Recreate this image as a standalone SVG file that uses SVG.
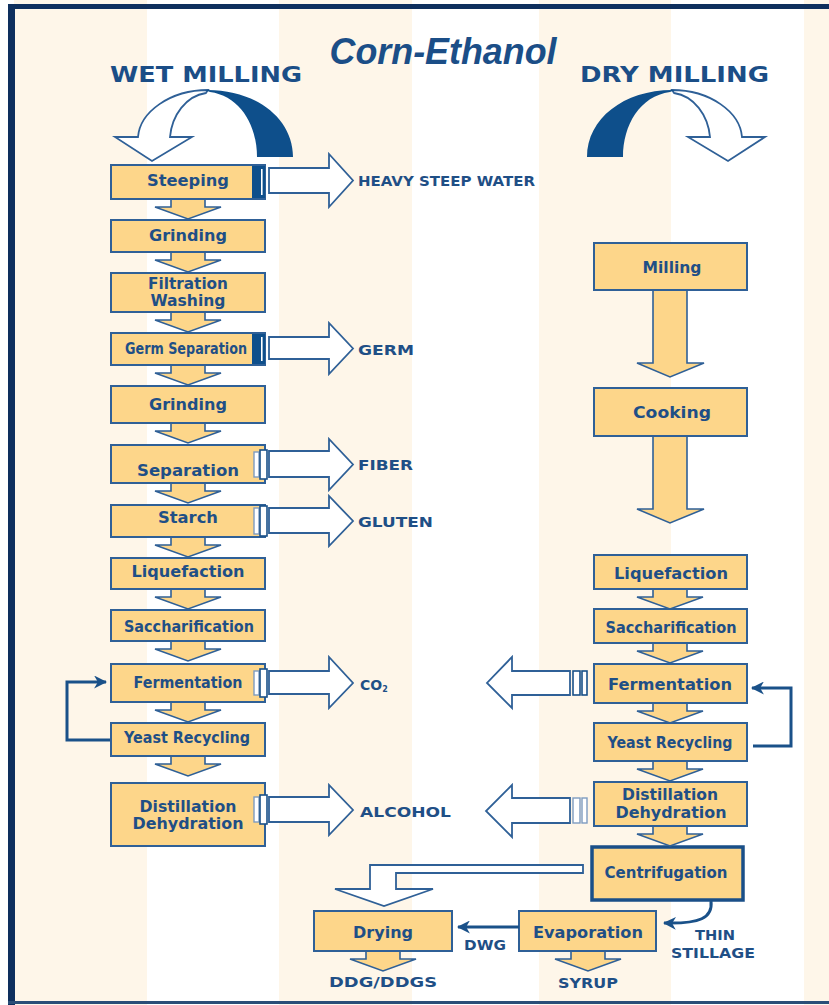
<svg xmlns="http://www.w3.org/2000/svg" xmlns:xlink="http://www.w3.org/1999/xlink" width="829" height="1005" viewBox="0 0 829 1005">
<style>
.box{fill:#FDD68A;stroke:#2F6097;stroke-width:2}
.cbox{fill:#FDD68A;stroke:#1A4F88;stroke-width:3.5}
.darr{fill:#FDD68A;stroke:#2F6097;stroke-width:1.6;stroke-linejoin:miter}
.oarr{fill:#ffffff;stroke:#2F6097;stroke-width:1.8}
.bar{fill:#ffffff;stroke:#1A5189;stroke-width:1.6}
.barl{fill:#ffffff;stroke:#7E9CC0;stroke-width:1.4}
.dbar{fill:#0E4F8B}
.loop{fill:none;stroke:#1A5189;stroke-width:3}
.t{font-family:"DejaVu Sans","Verdana",sans-serif;font-weight:bold;font-size:15px;fill:#1F4F86;text-anchor:middle}
.l{font-family:"DejaVu Sans","Verdana",sans-serif;font-weight:bold;font-size:14px;fill:#1F4F86}
.h{font-family:"DejaVu Sans","Verdana",sans-serif;font-weight:bold;font-size:22px;fill:#1B4E87}
</style>
<defs>
<path id="da" class="darr" d="M-17,1 V8 H-33 L0,20 L33,8 H17 V1"/>
<marker id="ah" viewBox="0 0 12 12" refX="11" refY="6" markerWidth="13" markerHeight="13" markerUnits="userSpaceOnUse" orient="auto">
<path d="M0,0 L12,6 L0,12 L3.5,6 Z" fill="#1A5189"/>
</marker>
</defs>

<g id="background">
<rect x="0" y="0" width="829" height="1005" fill="#ffffff"/>
<rect x="14" y="0" width="133" height="1005" fill="#FEF6E9"/>
<rect x="279" y="0" width="133" height="1005" fill="#FEF6E9"/>
<rect x="539" y="0" width="132" height="1005" fill="#FEF6E9"/>
<rect x="804" y="0" width="25" height="1005" fill="#FEF6E9"/>
<rect x="8" y="4" width="7" height="1001" fill="#0E2F5D"/>
<rect x="8" y="4" width="821" height="5" fill="#0E2F5D"/>
<rect x="8" y="1001" width="821" height="3" fill="#2A4E78"/>
</g>

<g id="title">
<text x="443" y="64" font-family="Liberation Sans, Arial, sans-serif" font-weight="bold" font-style="italic" font-size="36" fill="#1B4E87" text-anchor="middle" textLength="227" lengthAdjust="spacingAndGlyphs">Corn-Ethanol</text>
</g>

<g id="wet-milling-head">
<text class="h" x="110" y="82" textLength="192" lengthAdjust="spacingAndGlyphs">WET MILLING</text>
<path class="oarr" d="M208,90 C170,90 140,112 138,137 L115,137 L152,161 L192,137 L170,137 C172,115 186,96 206,93 Z"/>
<path fill="#0E4F8B" d="M205,90 C255,89 293,118 293,157 L257,157 C257,125 240,96 210,92 Z"/>
</g>

<g id="dry-milling-head">
<text class="h" x="580" y="82" textLength="189" lengthAdjust="spacingAndGlyphs">DRY MILLING</text>
<g transform="translate(880,0) scale(-1,1)">
<path class="oarr" d="M208,90 C170,90 140,112 138,137 L115,137 L152,161 L192,137 L170,137 C172,115 186,96 206,93 Z"/>
<path fill="#0E4F8B" d="M205,90 C255,89 293,118 293,157 L257,157 C257,125 240,96 210,92 Z"/>
</g>
</g>

<!-- wet milling nodes -->
<g id="w-steeping"><rect class="box" x="111" y="165" width="154" height="34"/><text class="t" x="188" y="186" textLength="82" lengthAdjust="spacingAndGlyphs">Steeping</text></g>
<g id="w-grinding1"><rect class="box" x="111" y="220" width="154" height="32"/><text class="t" x="188" y="241" textLength="78" lengthAdjust="spacingAndGlyphs">Grinding</text></g>
<g id="w-filtration"><rect class="box" x="111" y="273" width="154" height="39"/><text class="t" x="188" y="289" textLength="80" lengthAdjust="spacingAndGlyphs">Filtration</text><text class="t" x="188" y="306" textLength="75" lengthAdjust="spacingAndGlyphs">Washing</text></g>
<g id="w-germsep"><rect class="box" x="111" y="333" width="154" height="32"/><text class="t" x="186" y="354" font-size="13" textLength="122" lengthAdjust="spacingAndGlyphs">Germ Separation</text></g>
<g id="w-grinding2"><rect class="box" x="111" y="386" width="154" height="37"/><text class="t" x="188" y="410" textLength="78" lengthAdjust="spacingAndGlyphs">Grinding</text></g>
<g id="w-separation"><rect class="box" x="111" y="445" width="154" height="38"/><text class="t" x="188" y="476" textLength="102" lengthAdjust="spacingAndGlyphs">Separation</text></g>
<g id="w-starch"><rect class="box" x="111" y="505" width="154" height="32"/><text class="t" x="188" y="523" textLength="60" lengthAdjust="spacingAndGlyphs">Starch</text></g>
<g id="w-liquefaction"><rect class="box" x="111" y="558" width="154" height="31"/><text class="t" x="188" y="577" textLength="113" lengthAdjust="spacingAndGlyphs">Liquefaction</text></g>
<g id="w-saccharification"><rect class="box" x="111" y="610" width="154" height="31"/><text class="t" x="189" y="632" textLength="130" lengthAdjust="spacingAndGlyphs">Saccharification</text></g>
<g id="w-fermentation"><rect class="box" x="111" y="664" width="154" height="38"/><text class="t" x="188" y="688" textLength="109" lengthAdjust="spacingAndGlyphs">Fermentation</text></g>
<g id="w-yeast"><rect class="box" x="111" y="723" width="154" height="33"/><text class="t" x="187" y="743" font-size="14" textLength="126" lengthAdjust="spacingAndGlyphs">Yeast Recycling</text></g>
<g id="w-distillation"><rect class="box" x="111" y="783" width="154" height="63"/><text class="t" x="188" y="812" textLength="97" lengthAdjust="spacingAndGlyphs">Distillation</text><text class="t" x="188" y="829" textLength="111" lengthAdjust="spacingAndGlyphs">Dehydration</text></g>

<!-- dry milling nodes -->
<g id="d-milling"><rect class="box" x="594" y="243" width="153" height="47"/><text class="t" x="672" y="273" textLength="59" lengthAdjust="spacingAndGlyphs">Milling</text></g>
<g id="d-cooking"><rect class="box" x="594" y="388" width="153" height="48"/><text class="t" x="672" y="418" textLength="78" lengthAdjust="spacingAndGlyphs">Cooking</text></g>
<g id="d-liquefaction"><rect class="box" x="594" y="555" width="153" height="34"/><text class="t" x="671" y="579" textLength="114" lengthAdjust="spacingAndGlyphs">Liquefaction</text></g>
<g id="d-saccharification"><rect class="box" x="594" y="609" width="153" height="34"/><text class="t" x="671" y="633" textLength="131" lengthAdjust="spacingAndGlyphs">Saccharification</text></g>
<g id="d-fermentation"><rect class="box" x="594" y="664" width="153" height="39"/><text class="t" x="670" y="690" textLength="124" lengthAdjust="spacingAndGlyphs">Fermentation</text></g>
<g id="d-yeast"><rect class="box" x="594" y="723" width="153" height="38"/><text class="t" x="670" y="748" textLength="125" lengthAdjust="spacingAndGlyphs">Yeast Recycling</text></g>
<g id="d-distillation"><rect class="box" x="594" y="782" width="153" height="44"/><text class="t" x="670" y="800" textLength="96" lengthAdjust="spacingAndGlyphs">Distillation</text><text class="t" x="671" y="818" textLength="111" lengthAdjust="spacingAndGlyphs">Dehydration</text></g>
<g id="d-centrifugation"><rect class="cbox" x="592" y="847" width="151" height="53"/><text class="t" x="666" y="878" textLength="123" lengthAdjust="spacingAndGlyphs">Centrifugation</text></g>
<g id="d-drying"><rect class="box" x="314" y="911" width="138" height="40"/><text class="t" x="383" y="938" textLength="60" lengthAdjust="spacingAndGlyphs">Drying</text></g>
<g id="d-evaporation"><rect class="box" x="519" y="911" width="137" height="40"/><text class="t" x="588" y="938" textLength="110" lengthAdjust="spacingAndGlyphs">Evaporation</text></g>

<!-- output labels -->
<g id="out-steepwater"><text class="l" x="358" y="186" textLength="177" lengthAdjust="spacingAndGlyphs">HEAVY STEEP WATER</text></g>
<g id="out-germ"><text class="l" x="358" y="355" textLength="56" lengthAdjust="spacingAndGlyphs">GERM</text></g>
<g id="out-fiber"><text class="l" x="358" y="470" textLength="55" lengthAdjust="spacingAndGlyphs">FIBER</text></g>
<g id="out-gluten"><text class="l" x="358" y="527" textLength="75" lengthAdjust="spacingAndGlyphs">GLUTEN</text></g>
<g id="out-co2"><text class="l" x="360" y="690">CO<tspan font-size="8" dy="2">2</tspan></text></g>
<g id="out-alcohol"><text class="l" x="360" y="817" textLength="91" lengthAdjust="spacingAndGlyphs">ALCOHOL</text></g>
<g id="out-dwg"><text class="l" x="464" y="950" textLength="42" lengthAdjust="spacingAndGlyphs">DWG</text></g>
<g id="out-stillage"><text class="l" x="695" y="940" textLength="40" lengthAdjust="spacingAndGlyphs">THIN</text><text class="l" x="671" y="958" textLength="84" lengthAdjust="spacingAndGlyphs">STILLAGE</text></g>
<g id="out-ddg"><text class="l" x="329" y="987" textLength="108" lengthAdjust="spacingAndGlyphs">DDG/DDGS</text></g>
<g id="out-syrup"><text class="l" x="558" y="988" textLength="60" lengthAdjust="spacingAndGlyphs">SYRUP</text></g>

<g id="connectors">
<!-- wet down arrows -->
<use xlink:href="#da" x="188" y="199"/>
<use xlink:href="#da" x="188" y="252"/>
<use xlink:href="#da" x="188" y="312"/>
<use xlink:href="#da" x="188" y="365"/>
<use xlink:href="#da" x="188" y="423"/>
<use xlink:href="#da" x="188" y="483"/>
<use xlink:href="#da" x="188" y="537"/>
<use xlink:href="#da" x="188" y="589"/>
<use xlink:href="#da" x="188" y="641"/>
<use xlink:href="#da" x="188" y="702"/>
<use xlink:href="#da" x="188" y="756"/>
<!-- dry down arrows -->
<path class="darr" d="M653,291 V363 H637 L670,377 L704,363 H687 V291"/>
<path class="darr" d="M653,437 V509 H637 L670,523 L704,509 H687 V437"/>
<use xlink:href="#da" x="670" y="589"/>
<use xlink:href="#da" x="670" y="643"/>
<use xlink:href="#da" x="670" y="703"/>
<use xlink:href="#da" x="670" y="761"/>
<use xlink:href="#da" x="670" y="826"/>
<use xlink:href="#da" x="383" y="951"/>
<use xlink:href="#da" x="588" y="951"/>

<!-- wet side outputs -->
<path class="oarr" d="M269,168 H329 V154 L353,180.5 L329,207 V193 H269 Z"/>
<rect class="dbar" x="252" y="166" width="13" height="32"/><rect x="261" y="169" width="1.6" height="26" fill="#ffffff"/>
<path class="oarr" d="M269,337 H329 V323 L353,348.5 L329,374 V359 H269 Z"/>
<rect class="dbar" x="252" y="334" width="13" height="30"/><rect x="261" y="337" width="1.6" height="24" fill="#ffffff"/>
<path class="oarr" d="M269,451 H329 V439 L353,464.5 L329,490 V477 H269 Z"/>
<rect class="barl" x="254" y="452" width="5" height="25"/><rect class="bar" x="260" y="450" width="7" height="29"/>
<path class="oarr" d="M269,508 H329 V496 L353,521 L329,546 V533 H269 Z"/>
<rect class="barl" x="254" y="508" width="5" height="26"/><rect class="bar" x="260" y="506" width="7" height="30"/>
<path class="oarr" d="M269,671 H329 V657 L353,683 L329,708 V694 H269 Z"/>
<rect class="barl" x="254" y="671" width="5" height="24"/><rect class="bar" x="260" y="669" width="7" height="28"/>
<path class="oarr" d="M269,797 H329 V785 L353,810 L329,835 V822 H269 Z"/>
<rect class="barl" x="254" y="797" width="5" height="25"/><rect class="bar" x="260" y="795" width="7" height="29"/>

<!-- dry side outputs -->
<path class="oarr" d="M570,671 H512 V657 L487,683 L512,708 V695 H570 Z"/>
<rect class="bar" x="573" y="671" width="7" height="24"/><rect class="bar" x="582" y="671" width="5" height="24"/>
<path class="oarr" d="M570,798 H512 V785 L486,811 L512,837 V823 H570 Z"/>
<rect class="barl" x="573" y="798" width="7" height="25"/><rect class="barl" x="582" y="798" width="5" height="25"/>

<!-- recycle loops -->
<polyline class="loop" points="110,740 67,740 67,682 106,682" marker-end="url(#ah)"/>
<polyline class="loop" points="753,746 791,746 791,688 752,688" marker-end="url(#ah)"/>

<!-- centrifugation to drying -->
<path class="oarr" d="M583,865 H370 V889 H335 L384,906 L433,889 H396 V873 H583 Z"/>
<!-- evaporation to drying (DWG) -->
<line class="loop" x1="519" y1="927" x2="458" y2="927" marker-end="url(#ah)"/>
<!-- centrifugation to evaporation (thin stillage) -->
<path class="loop" d="M711,901 C713,918 700,924 664,923" marker-end="url(#ah)"/>
</g>
</svg>
